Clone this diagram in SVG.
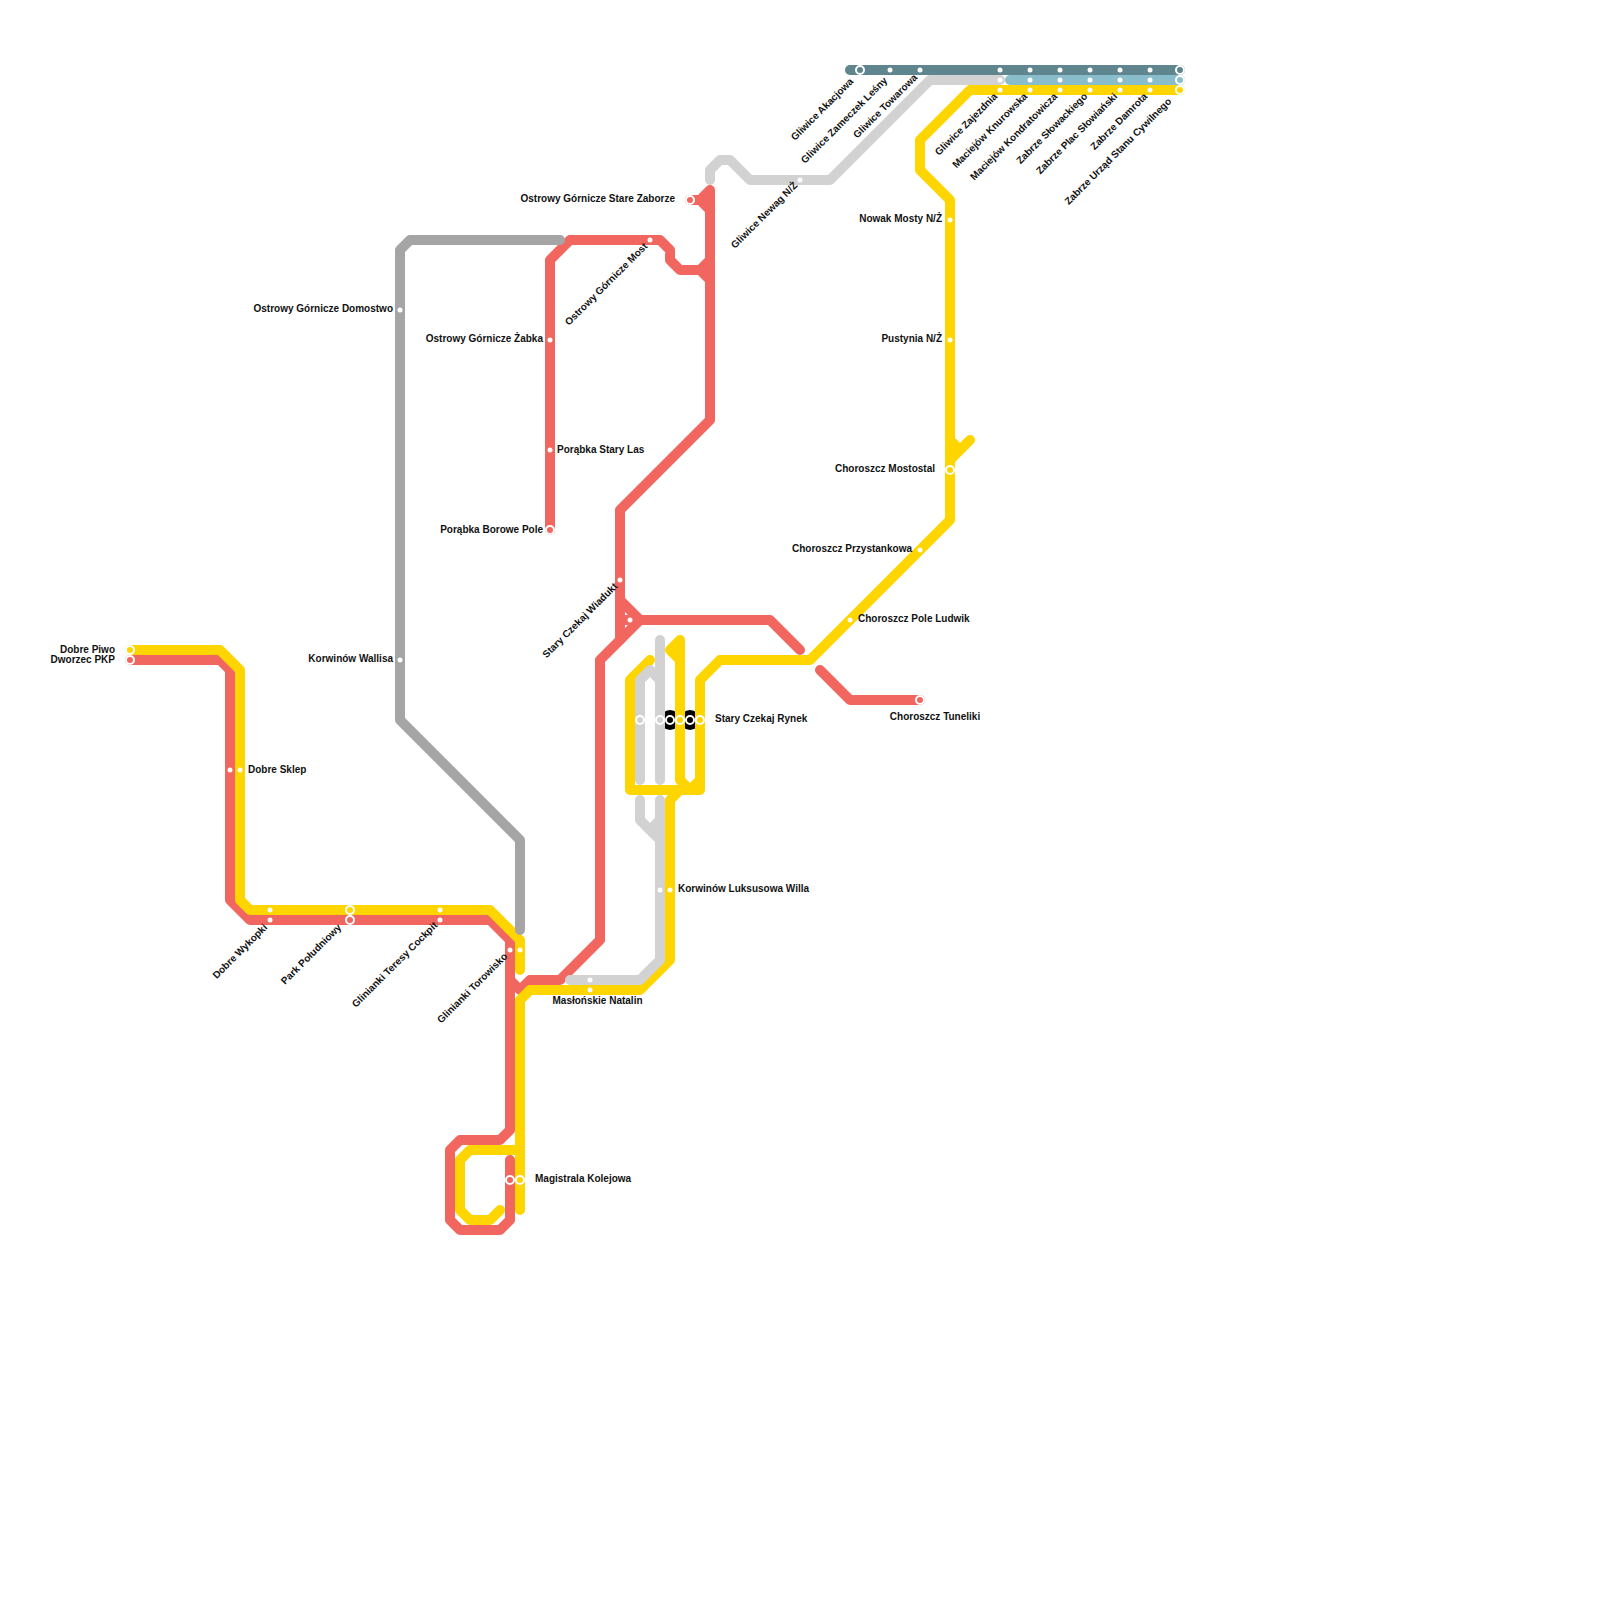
<svg xmlns="http://www.w3.org/2000/svg" width="1600" height="1600" viewBox="0 0 1600 1600">
<style>
.l{fill:none;stroke-width:10;stroke-linecap:round;stroke-linejoin:round}
.r{stroke:#f1665f}.y{stroke:#ffd500}.g{stroke:#d2d2d2}.d{stroke:#a5a5a5}.t{stroke:#5f868e}.b{stroke:#8abdcb}
.s{fill:#fff}
.o{stroke:#fff;stroke-width:2}
text{font-family:"Liberation Sans",Arial,sans-serif;font-size:10px;font-weight:bold;fill:#111}
.e{text-anchor:end}.m{text-anchor:middle}
</style>
<rect width="1600" height="1600" fill="#fff"/>
<g id="interchange-backs" fill="#000"><circle cx="670" cy="720" r="10"/><circle cx="690" cy="720" r="10"/></g>
<g id="connectors">
<path class="l r" d="M130 660H220L230 670V900L250 920H490L510 940V1130L500 1140H460L450 1150V1220L460 1230H500L510 1220V1160"/>
<path class="l r" d="M510 980L520 990L530 980H560L600 940V660L640 620H770L800 650"/>
<path class="l r" d="M620 640V510L710 420V190L700 200H690M700 200L710 210M620 600L640 620M620 620H640"/>
<path class="l r" d="M710 260L700 270H680L670 260V250L660 240H570L550 260V530M700 270L710 280"/>
<path class="l r" d="M820 670L850 700H920"/>
<path class="l y" d="M130 650H220L240 670V900L250 910H490L520 940V970"/>
<path class="l y" d="M500 1210L490 1220H470L460 1210V1160L470 1150H520M520 1210V1000L530 990H640L670 960V800L680 790H630V680L650 660M680 790H700V680L720 660H810L950 520V200L920 170V140L970 90H1180"/>
<path class="l y" d="M680 780V640L670 650L680 660M680 780L690 790L700 780"/>
<path class="l y" d="M950 440L960 450L970 440M950 460L960 450"/>
<path class="l d" d="M560 240H410L400 250V720L520 840V930"/>
<path class="l g" d="M570 980H640L660 960V800M640 800V820L660 840M650 830L660 820"/>
<path class="l g" d="M640 780V680L650 670L660 680M660 780V640"/>
<path class="l g" d="M710 180V170L720 160H730L750 180H830L930 80H1000"/>
<path class="l b" d="M1010 80H1180"/>
<path class="l t" d="M850 70H1180"/>
</g>
<g id="st-dobre-piwo"><circle class="o" cx="130" cy="650" r="4" fill="#ffd500"/><text class="e" x="115" y="653">Dobre Piwo</text></g>
<g id="st-dworzec-pkp"><circle class="o" cx="130" cy="660" r="4" fill="#f1665f"/><text class="e" x="115" y="663">Dworzec PKP</text></g>
<g id="st-dobre-sklep"><circle class="s" cx="230" cy="770" r="2.5"/><circle class="s" cx="240" cy="770" r="2.5"/><text x="248" y="773">Dobre Sklep</text></g>
<g id="st-dobre-wykopki"><circle class="s" cx="270" cy="910" r="2.5"/><circle class="s" cx="270" cy="920" r="2.5"/><text class="e" transform="translate(268 928) rotate(-45)">Dobre Wykopki</text></g>
<g id="st-park-poludniowy"><circle class="o" cx="350" cy="910" r="4" fill="#ffd500"/><circle class="o" cx="350" cy="920" r="4" fill="#f1665f"/><text class="e" transform="translate(342 928) rotate(-45)">Park Południowy</text></g>
<g id="st-glinianki-cockpit"><circle class="s" cx="440" cy="910" r="2.5"/><circle class="s" cx="440" cy="920" r="2.5"/><text class="e" transform="translate(438 926) rotate(-45)">Glinianki Teresy Cockpit</text></g>
<g id="st-glinianki-torowisko"><circle class="s" cx="510" cy="950" r="2.5"/><circle class="s" cx="520" cy="950" r="2.5"/><text class="e" transform="translate(508 957) rotate(-45)">Glinianki Torowisko</text></g>
<g id="st-magistrala"><circle class="o" cx="510" cy="1180" r="4" fill="#f1665f"/><circle class="o" cx="520" cy="1180" r="4" fill="#ffd500"/><text x="535" y="1182">Magistrala Kolejowa</text></g>
<g id="st-maslonskie"><circle class="s" cx="590" cy="980" r="2.5"/><circle class="s" cx="590" cy="990" r="2.5"/><text class="m" x="597.5" y="1004">Masłońskie Natalin</text></g>
<g id="st-korwinow-willa"><circle class="s" cx="660" cy="890" r="2.5"/><circle class="s" cx="670" cy="890" r="2.5"/><text x="678" y="892">Korwinów Luksusowa Willa</text></g>
<g id="st-stary-wiadukt"><circle class="s" cx="620" cy="580" r="2.5"/><circle class="s" cx="630" cy="620" r="2.5"/><text class="e" transform="translate(618 587) rotate(-45)">Stary Czekaj Wiadukt</text></g>
<g id="st-stary-rynek"><circle class="o" cx="640" cy="720" r="4" fill="#d2d2d2"/><circle class="o" cx="660" cy="720" r="4" fill="#d2d2d2"/><circle class="o" cx="670" cy="720" r="4" fill="#000"/><circle class="o" cx="680" cy="720" r="4" fill="#ffd500"/><circle class="o" cx="690" cy="720" r="4" fill="#000"/><circle class="o" cx="700" cy="720" r="4" fill="#ffd500"/><text x="715" y="722">Stary Czekaj Rynek</text></g>
<g id="st-borowe"><circle class="o" cx="550" cy="530" r="4" fill="#f1665f"/><text class="e" x="543" y="533">Porąbka Borowe Pole</text></g>
<g id="st-stary-las"><circle class="s" cx="550" cy="450" r="2.5"/><text x="557" y="453">Porąbka Stary Las</text></g>
<g id="st-zabka"><circle class="s" cx="550" cy="340" r="2.5"/><text class="e" x="543" y="342">Ostrowy Górnicze Żabka</text></g>
<g id="st-most"><circle class="s" cx="650" cy="240" r="2.5"/><text class="e" transform="translate(648 247) rotate(-45)">Ostrowy Górnicze Most</text></g>
<g id="st-zaborze"><circle class="o" cx="690" cy="200" r="4" fill="#f1665f"/><text class="e" x="675" y="202">Ostrowy Górnicze Stare Zaborze</text></g>
<g id="st-domostwo"><circle class="s" cx="400" cy="310" r="2.5"/><text class="e" x="393" y="312">Ostrowy Górnicze Domostwo</text></g>
<g id="st-wallisa"><circle class="s" cx="400" cy="660" r="2.5"/><text class="e" x="393" y="662">Korwinów Wallisa</text></g>
<g id="st-newag"><circle class="s" cx="800" cy="180" r="2.5"/><text class="e" transform="translate(798 186) rotate(-45)">Gliwice Newag N/Ż</text></g>
<g id="st-akacjowa"><circle class="o" cx="860" cy="70" r="4" fill="#5f868e"/><text class="e" transform="translate(854 82) rotate(-45)">Gliwice Akacjowa</text></g>
<g id="st-zameczek"><circle class="s" cx="890" cy="70" r="2.5"/><text class="e" transform="translate(888 81) rotate(-45)">Gliwice Zameczek Leśny</text></g>
<g id="st-towarowa"><circle class="s" cx="920" cy="70" r="2.5"/><text class="e" transform="translate(918 78) rotate(-45)">Gliwice Towarowa</text></g>
<g id="st-zajezdnia"><circle class="s" cx="1000" cy="70" r="2.5"/><circle class="s" cx="1000" cy="80" r="2.5"/><circle class="s" cx="1000" cy="90" r="2.5"/><text class="e" transform="translate(998 97) rotate(-45)">Gliwice Zajezdnia</text></g>
<g id="st-knurowska"><circle class="s" cx="1030" cy="70" r="2.5"/><circle class="s" cx="1030" cy="80" r="2.5"/><circle class="s" cx="1030" cy="90" r="2.5"/><text class="e" transform="translate(1028 97) rotate(-45)">Maciejów Knurowska</text></g>
<g id="st-kondratowicza"><circle class="s" cx="1060" cy="70" r="2.5"/><circle class="s" cx="1060" cy="80" r="2.5"/><circle class="s" cx="1060" cy="90" r="2.5"/><text class="e" transform="translate(1058 97) rotate(-45)">Maciejów Kondratowicza</text></g>
<g id="st-slowackiego"><circle class="s" cx="1090" cy="70" r="2.5"/><circle class="s" cx="1090" cy="80" r="2.5"/><circle class="s" cx="1090" cy="90" r="2.5"/><text class="e" transform="translate(1088 97) rotate(-45)">Zabrze Słowackiego</text></g>
<g id="st-slowianski"><circle class="s" cx="1120" cy="70" r="2.5"/><circle class="s" cx="1120" cy="80" r="2.5"/><circle class="s" cx="1120" cy="90" r="2.5"/><text class="e" transform="translate(1118 97) rotate(-45)">Zabrze Plac Słowiański</text></g>
<g id="st-damrota"><circle class="s" cx="1150" cy="70" r="2.5"/><circle class="s" cx="1150" cy="80" r="2.5"/><circle class="s" cx="1150" cy="90" r="2.5"/><text class="e" transform="translate(1148 97) rotate(-45)">Zabrze Damrota</text></g>
<g id="st-urzad"><circle class="o" cx="1180" cy="70" r="4" fill="#5f868e"/><circle class="o" cx="1180" cy="80" r="4" fill="#8abdcb"/><circle class="o" cx="1180" cy="90" r="4" fill="#ffd500"/><text class="e" transform="translate(1172 102) rotate(-45)">Zabrze Urząd Stanu Cywilnego</text></g>
<g id="st-nowak"><circle class="s" cx="950" cy="220" r="2.5"/><text class="e" x="942" y="222">Nowak Mosty N/Ż</text></g>
<g id="st-pustynia"><circle class="s" cx="950" cy="340" r="2.5"/><text class="e" x="942" y="342">Pustynia N/Ż</text></g>
<g id="st-mostostal"><circle class="o" cx="950" cy="470" r="4" fill="#ffd500"/><text class="e" x="935" y="472">Choroszcz Mostostal</text></g>
<g id="st-przystankowa"><circle class="s" cx="920" cy="550" r="2.5"/><text class="e" x="912" y="552">Choroszcz Przystankowa</text></g>
<g id="st-ludwik"><circle class="s" cx="850" cy="620" r="2.5"/><text x="858" y="622">Choroszcz Pole Ludwik</text></g>
<g id="st-tuneliki"><circle class="o" cx="920" cy="700" r="4" fill="#f1665f"/><text class="m" x="935" y="720">Choroszcz Tuneliki</text></g>
</svg>
